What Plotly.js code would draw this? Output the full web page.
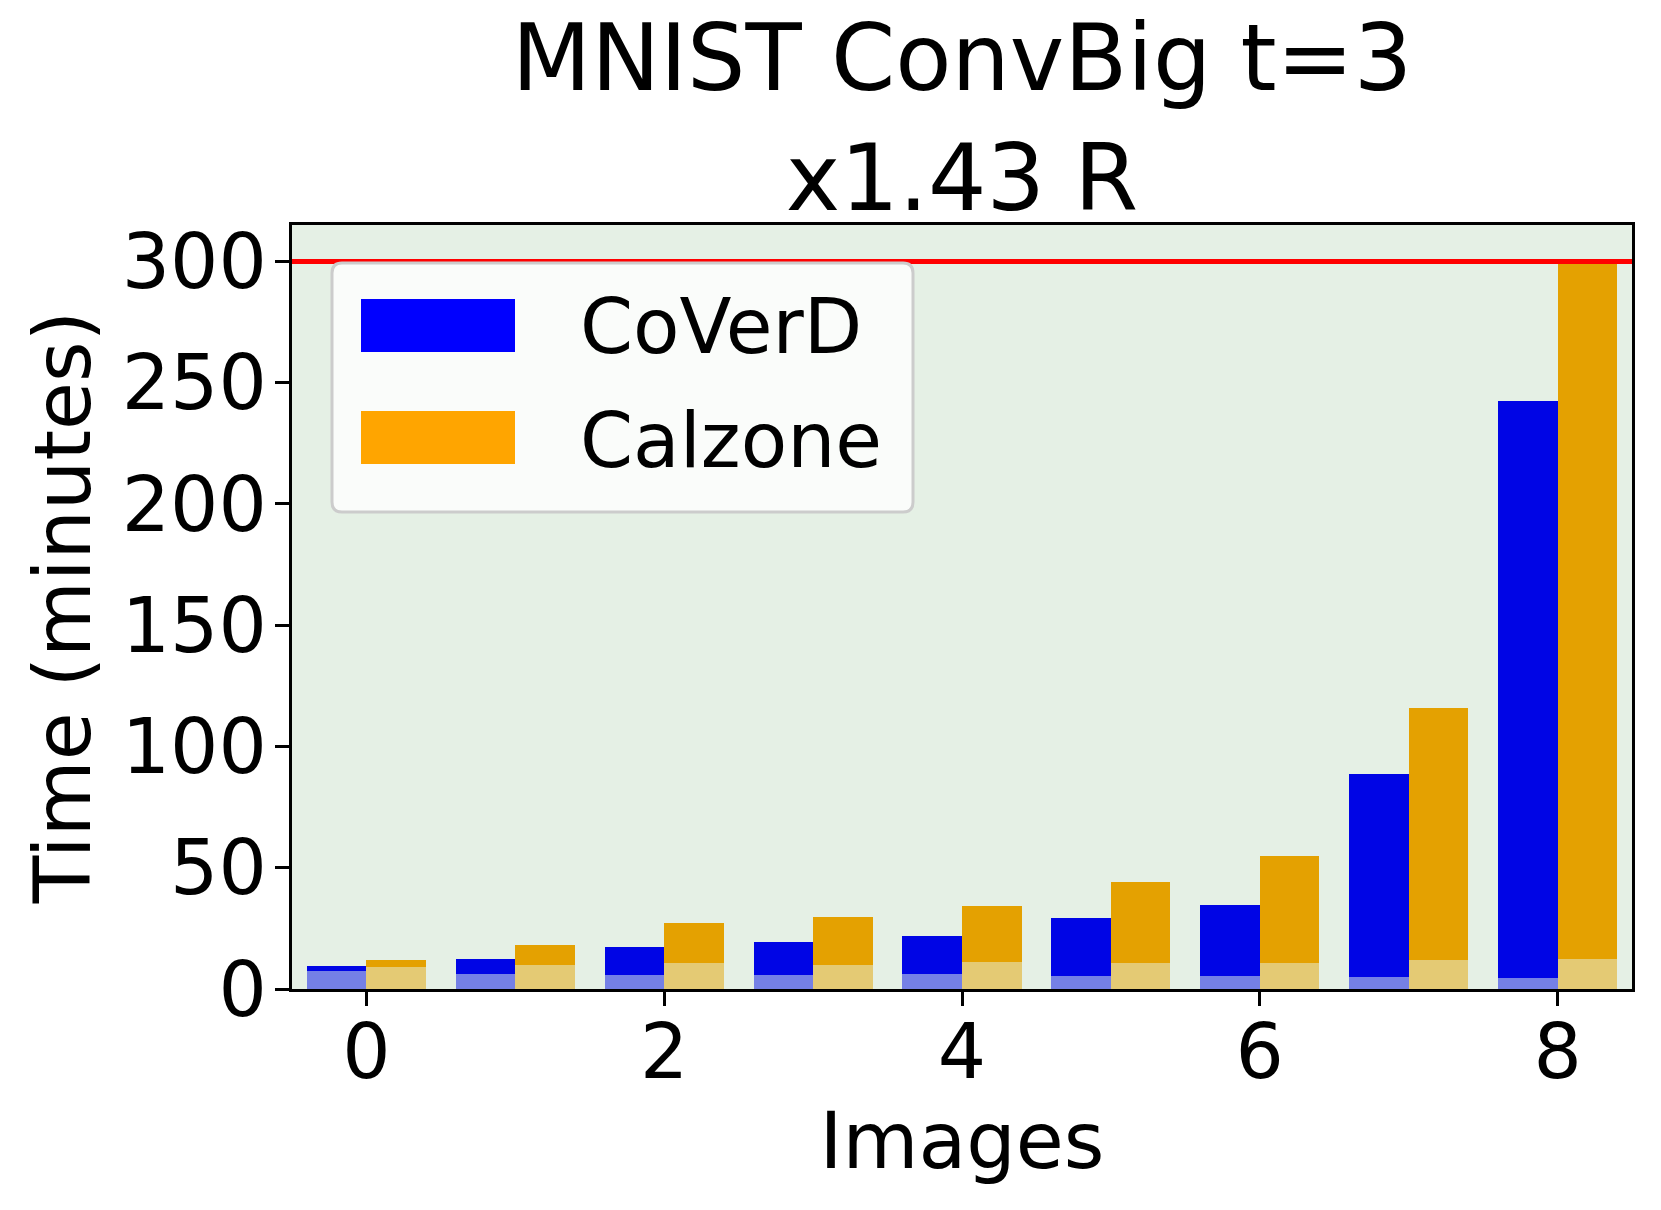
<!DOCTYPE html>
<html>
<head>
<meta charset="utf-8">
<script src="https://cdn.plot.ly/plotly-3.0.1.min.js"></script>
<style>
  html, body { margin: 0; padding: 0; background: #ffffff; }
  #chart { width: 1661px; height: 1210px; }
</style>
</head>
<body>
<div id="chart"></div>
<script>
// ---- Data ----
const images = [0, 1, 2, 3, 4, 5, 6, 7, 8];
const coverdTotal  = [9.6, 12.5, 17.5, 19.3, 22.0, 29.3, 34.6, 88.6, 242.3];
const coverdBase   = [7.4, 6.1, 5.9, 5.7, 6.2, 5.3, 5.3, 5.0, 4.4];
const calzoneTotal = [12.1, 18.3, 27.4, 29.8, 34.4, 44.0, 54.7, 115.7, 300];
const calzoneBase  = [8.9, 9.8, 10.6, 10.0, 11.2, 10.6, 10.6, 11.8, 12.5];
const timeLimit = 300;
const seriesNames = ['CoVerD', 'Calzone'];
const xTicks = [0, 2, 4, 6, 8];
const yTicks = [0, 50, 100, 150, 200, 250, 300];
const titleLines = ['MNIST ConvBig t=3', 'x1.43 R'];
const xTitle = 'Images';
const yTitle = 'Time (minutes)';

// ---- Style ----
const FONT = 'DejaVu Sans, Liberation Sans, sans-serif';
const W = 1661, H = 1210;
const M = {l: 292, r: 29, t: 225, b: 221};
const PW = W - M.l - M.r, PH = H - M.t - M.b;
const px2x = p => (p - M.l) / PW;
const px2y = p => (H - M.b - p) / PH;

const C = {
  blue: '#0005e5', blueLight: '#7580e6',
  orange: '#e4a101', orangeLight: '#e4ca74',
  legendBlue: '#0000ff', legendOrange: '#ffa500'
};

function barTrace(y, color, offset, name) {
  return {
    type: 'bar', x: images, y: y, name: name,
    width: 0.4, offset: offset,
    marker: {color: color, line: {width: 0}},
    showlegend: false, hoverinfo: 'x+y+name'
  };
}

const data = [
  barTrace(coverdTotal, C.blue, -0.4, seriesNames[0]),
  barTrace(calzoneTotal, C.orange, 0, seriesNames[1]),
  barTrace(coverdBase, C.blueLight, -0.4, seriesNames[0]),
  barTrace(calzoneBase, C.orangeLight, 0, seriesNames[1])
];

// rounded legend box
const lb = {x0: px2x(332), x1: px2x(913), y0: px2y(512), y1: px2y(263)};
const rx = 10 / PW, ry = 10 / PH;
const boxPath =
  `M ${lb.x0 + rx},${lb.y1} L ${lb.x1 - rx},${lb.y1} Q ${lb.x1},${lb.y1} ${lb.x1},${lb.y1 - ry} ` +
  `L ${lb.x1},${lb.y0 + ry} Q ${lb.x1},${lb.y0} ${lb.x1 - rx},${lb.y0} ` +
  `L ${lb.x0 + rx},${lb.y0} Q ${lb.x0},${lb.y0} ${lb.x0},${lb.y0 + ry} ` +
  `L ${lb.x0},${lb.y1 - ry} Q ${lb.x0},${lb.y1} ${lb.x0 + rx},${lb.y1} Z`;

const shapes = [
  {type: 'line', xref: 'paper', yref: 'y', x0: 0, x1: 1, y0: timeLimit, y1: timeLimit,
   line: {color: '#ff0000', width: 5}, layer: 'above'},
  {type: 'path', xref: 'paper', yref: 'paper', path: boxPath,
   fillcolor: 'rgba(255,255,255,0.8)', line: {color: '#cccccc', width: 3}, layer: 'above'},
  {type: 'rect', xref: 'paper', yref: 'paper', x0: px2x(361), x1: px2x(515), y0: px2y(352), y1: px2y(299),
   fillcolor: C.legendBlue, line: {width: 0}, layer: 'above'},
  {type: 'rect', xref: 'paper', yref: 'paper', x0: px2x(361), x1: px2x(515), y0: px2y(464), y1: px2y(411),
   fillcolor: C.legendOrange, line: {width: 0}, layer: 'above'}
];

const annotations = [
  {xref: 'paper', yref: 'paper', x: px2x(578), y: px2y(327), xanchor: 'left', yanchor: 'middle',
   text: seriesNames[0], showarrow: false, font: {family: FONT, size: 76, color: '#000000'}},
  {xref: 'paper', yref: 'paper', x: px2x(578), y: px2y(440), xanchor: 'left', yanchor: 'middle',
   text: seriesNames[1], showarrow: false, font: {family: FONT, size: 76, color: '#000000'}}
];

const axisCommon = {
  showline: true, linecolor: '#000000', linewidth: 3, mirror: true,
  ticks: 'outside', ticklen: 14, tickwidth: 3, tickcolor: '#000000',
  showgrid: false, zeroline: false,
  tickfont: {family: FONT, size: 76, color: '#000000'}
};

const layout = {
  width: W, height: H,
  margin: M,
  paper_bgcolor: '#ffffff',
  plot_bgcolor: '#e5f0e5',
  font: {family: FONT, color: '#000000'},
  barmode: 'overlay',
  bargap: 0,
  title: {
    text: titleLines.join('<br>'),
    font: {family: FONT, size: 92, color: '#000000'},
    x: 0.5, xref: 'paper', xanchor: 'center',
    y: 1 - 90 / H, yref: 'container', yanchor: 'top'
  },
  xaxis: Object.assign({}, axisCommon, {
    range: [-0.5, 8.5], tickmode: 'array', tickvals: xTicks,
    ticklabelstandoff: -19,
    title: {text: xTitle, font: {family: FONT, size: 78, color: '#000000'}, standoff: 12}
  }),
  yaxis: Object.assign({}, axisCommon, {
    range: [0, 315], tickmode: 'array', tickvals: yTicks,
    ticklabelstandoff: -7,
    title: {text: yTitle, font: {family: FONT, size: 78, color: '#000000'}, standoff: 6}
  }),
  shapes: shapes,
  annotations: annotations,
  showlegend: false
};

Plotly.newPlot('chart', data, layout, {staticPlot: true, displayModeBar: false});
</script>
</body>
</html>
